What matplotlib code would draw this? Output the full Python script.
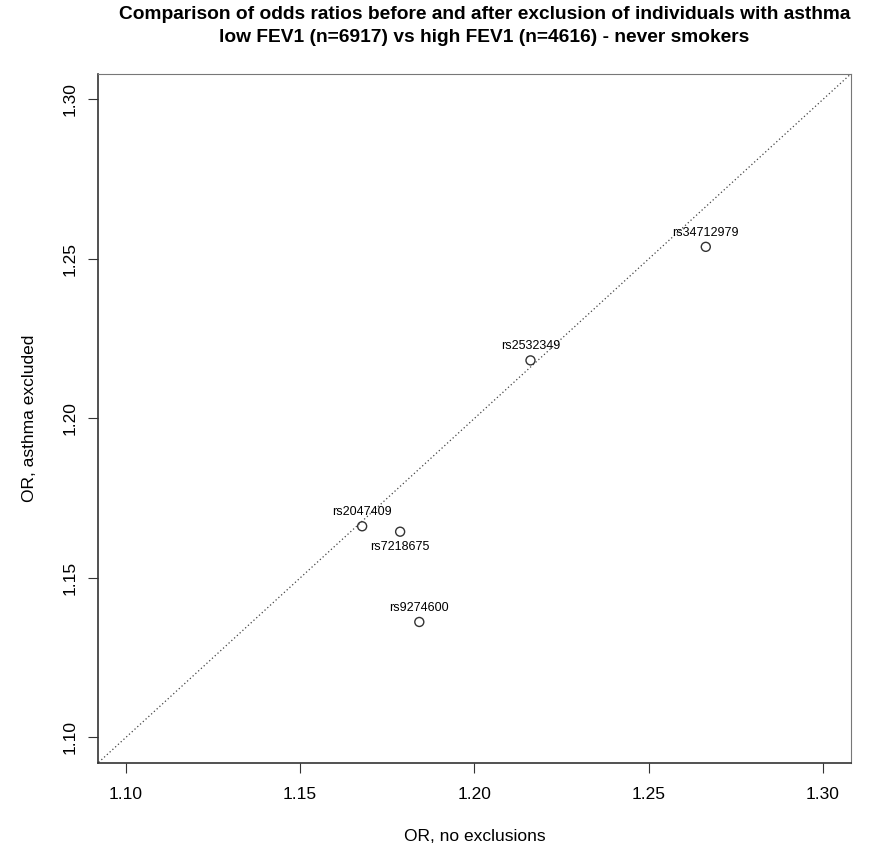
import matplotlib
matplotlib.use("Agg")
import matplotlib.pyplot as plt

snps = ["rs34712979", "rs2532349", "rs2047409", "rs7218675", "rs9274600"]
or_no_excl = [1.2664, 1.2161, 1.1678, 1.1787, 1.1842]
or_asthma_excl = [1.2538, 1.2182, 1.1662, 1.1645, 1.1362]
label_below = [False, False, False, True, False]
xticks = [1.10, 1.15, 1.20, 1.25, 1.30]
yticks = [1.10, 1.15, 1.20, 1.25, 1.30]

plt.rcParams['font.family'] = ['Liberation Sans', 'DejaVu Sans']
fig = plt.figure(figsize=(8.89, 8.50), dpi=100)
ax = fig.add_axes([0.1102, 0.1024, 0.8468, 0.8106])
ax.set_xlim(1.092, 1.308)
ax.set_ylim(1.092, 1.308)

ax.plot([1.0, 1.4], [1.0, 1.4], linestyle=(0, (1, 2)), color="#444444", lw=0.9)
ax.scatter(or_no_excl, or_asthma_excl, s=42, facecolors="none", edgecolors="#333333", linewidths=1.0, zorder=3)
for name, x, y, below in zip(snps, or_no_excl, or_asthma_excl, label_below):
    if below:
        ax.annotate(name, (x, y), xytext=(0, -6.5), textcoords="offset points",
                    ha="center", va="top", fontsize=9)
    else:
        ax.annotate(name, (x, y), xytext=(0, 6), textcoords="offset points",
                    ha="center", va="bottom", fontsize=9)

ax.set_xticks(xticks)
ax.set_yticks(yticks)
ax.set_xticklabels([f"{v:.2f}" for v in xticks], fontsize=12.5)
ax.set_yticklabels([f"{v:.2f}" for v in yticks], fontsize=12.5, rotation=90, va="center")
ax.tick_params(axis="x", length=7, pad=10, color="#333333")
ax.tick_params(axis="y", length=7, pad=8, color="#333333")
for side in ["top", "right"]:
    ax.spines[side].set_color("#777777")
for side in ["left", "bottom"]:
    ax.spines[side].set_color("#333333")
    ax.spines[side].set_linewidth(1.2)

ax.set_xlabel("OR, no exclusions", fontsize=12.5, labelpad=20)
ax.set_ylabel("OR, asthma excluded", fontsize=12.5, labelpad=18)
fig.suptitle("Comparison of odds ratios before and after exclusion of individuals with asthma\n"
             "low FEV1 (n=6917) vs high FEV1 (n=4616) - never smokers",
             fontsize=13.8, fontweight="bold", x=0.545, y=0.993, linespacing=1.45)

fig.savefig("out.png", dpi=100)
